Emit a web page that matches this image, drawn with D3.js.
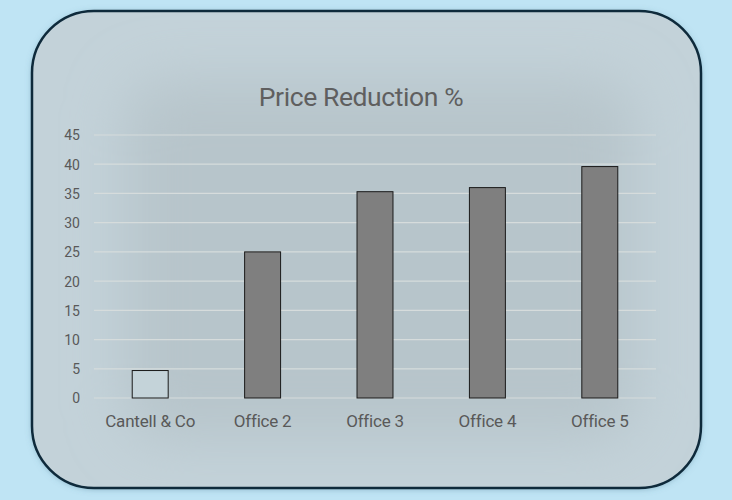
<!DOCTYPE html>
<html><head><meta charset="utf-8">
<script src="https://cdn.jsdelivr.net/npm/d3@7"></script>
<style>html,body{margin:0;padding:0;background:#bfe4f4;}svg{display:block;}</style>
</head><body>
<script>
const categories = ["Cantell & Co", "Office 2", "Office 3", "Office 4", "Office 5"];
const values = [4.7, 25, 35.3, 36, 39.6];
const tickValues = [0, 5, 10, 15, 20, 25, 30, 35, 40, 45];
const title = "Price Reduction %";

const W = 732, H = 500;
const FONT = "Roboto, Inter, 'Liberation Sans', sans-serif";
const svg = d3.select("body").append("svg").attr("width", W).attr("height", H);
const defs = svg.append("defs");
const blur = defs.append("filter").attr("id","blur").attr("x","-50%").attr("y","-50%").attr("width","200%").attr("height","200%");
blur.append("feGaussianBlur").attr("stdDeviation", 28);
const sh = defs.append("filter").attr("id","shadow").attr("x","-10%").attr("y","-10%").attr("width","120%").attr("height","120%");
sh.append("feDropShadow").attr("dx",0).attr("dy",1).attr("stdDeviation",3).attr("flood-color","#4a7a90").attr("flood-opacity",0.5);
const clip = defs.append("clipPath").attr("id","cardclip");
clip.append("rect").attr("x",32).attr("y",11).attr("width",669).attr("height",477).attr("rx",62).attr("ry",62);

svg.append("rect").attr("x",32).attr("y",11).attr("width",669).attr("height",477).attr("rx",62).attr("ry",62)
  .attr("fill","#c3d2d9").attr("filter","url(#shadow)");
svg.append("g").attr("clip-path","url(#cardclip)")
  .append("rect").attr("x",125).attr("y",80).attr("width",510).attr("height",360).attr("rx",40)
  .attr("fill","#b7c5cb").attr("filter","url(#blur)");
svg.append("rect").attr("x",32).attr("y",11).attr("width",669).attr("height",477).attr("rx",62).attr("ry",62)
  .attr("fill","none").attr("stroke","#0e2a3b").attr("stroke-width",2.5);

const x = d3.scaleBand().domain(categories).range([94, 656]).paddingInner(0.68).paddingOuter(0.34);
const y = d3.scaleLinear().domain([0, 45]).range([398, 135]);

// gridlines
svg.append("g").selectAll("line").data(tickValues).join("line")
  .attr("x1", 94).attr("x2", 656).attr("y1", d => y(d)).attr("y2", d => y(d))
  .attr("stroke", "#d6dcdc").attr("stroke-width", 1.2);

// y axis
const yAxis = svg.append("g").attr("transform","translate(80,0)")
  .call(d3.axisLeft(y).tickValues(tickValues).tickSize(0).tickPadding(0));
yAxis.select(".domain").remove();
yAxis.selectAll("text").attr("font-family",FONT).attr("font-size",14).attr("fill","#595959").attr("dy","0.35em");

// bars
svg.append("g").selectAll("rect").data(values).join("rect")
  .attr("x", (d,i) => x(categories[i]))
  .attr("width", x.bandwidth())
  .attr("y", d => y(d))
  .attr("height", d => y(0) - y(d))
  .attr("fill", (d,i) => i === 0 ? "#c4d3d9" : "#7f7f7f")
  .attr("stroke", "#1a1a1a").attr("stroke-width", 1);

// x axis
const xAxis = svg.append("g").attr("transform","translate(0,398)")
  .call(d3.axisBottom(x).tickSize(0).tickPadding(17));
xAxis.select(".domain").remove();
xAxis.selectAll("text").attr("font-family",FONT).attr("font-size",17).attr("fill","#595959").attr("letter-spacing","-0.2px");

svg.append("text").attr("x", 361).attr("y", 106).attr("text-anchor","middle")
  .attr("font-family",FONT).attr("font-size",26.5).attr("fill","#5f5f5f").attr("letter-spacing","-0.4px")
  .text(title);
</script>
</body></html>
